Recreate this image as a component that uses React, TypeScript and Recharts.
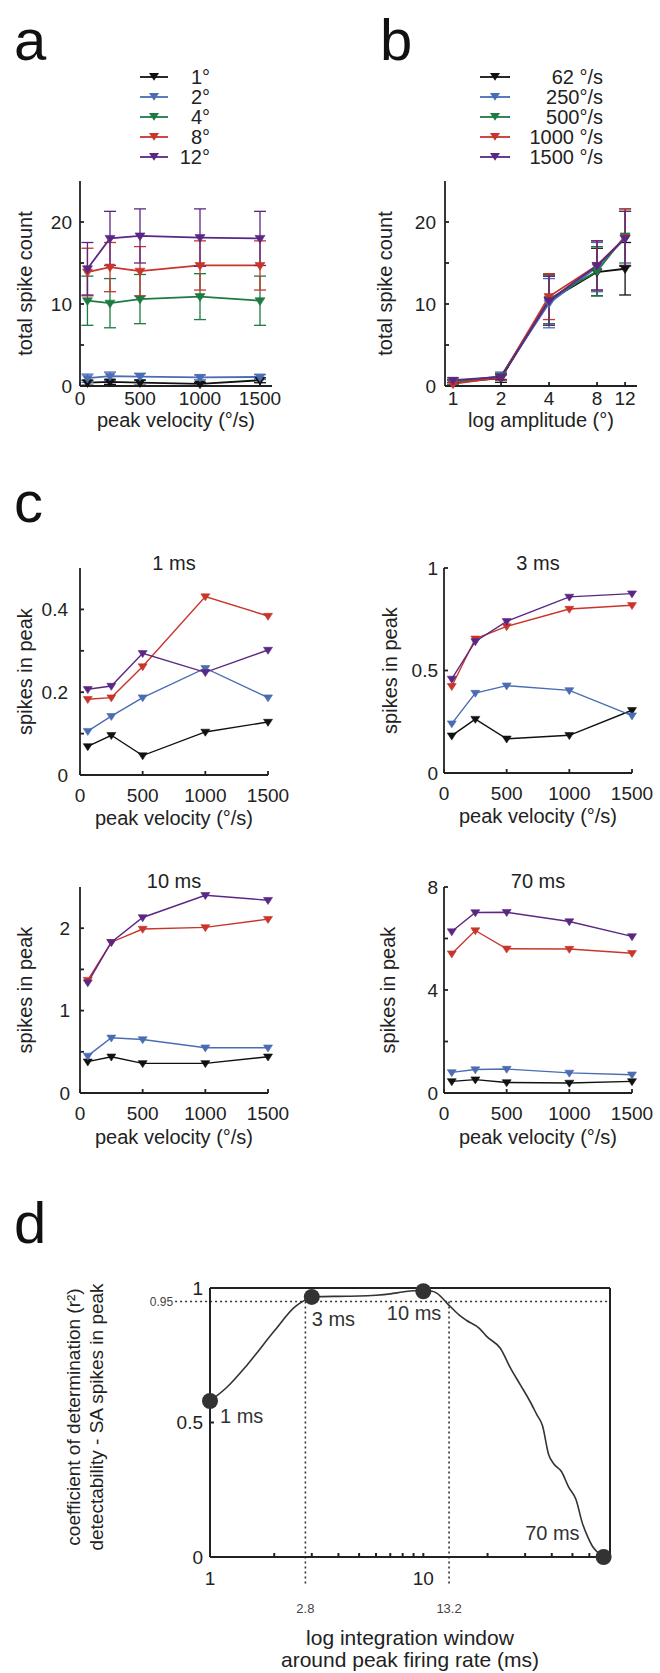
import React from 'react';
import {
  LineChart,
  Line,
  XAxis,
  YAxis,
  ErrorBar,
  Legend,
  Label,
  ComposedChart,
  ReferenceLine,
  ReferenceDot,
} from 'recharts';

const FONT = '"Liberation Sans", Arial, Helvetica, sans-serif';
const INK = '#222';
const SERIES_COLORS = ['#111111', '#4a6cb3', '#1d7a43', '#c9352b', '#5b2784'];

// ---- panels a & b: total spike count, amplitude x velocity
const VELOCITIES = [62, 250, 500, 1000, 1500];
const AMPLITUDES = [1, 2, 4, 8, 12];
const AMP_NAMES = ['1°', '2°', '4°', '8°', '12°'];
const VEL_NAMES = ['62 °/s', '250°/s', '500°/s', '1000 °/s', '1500 °/s'];

const COUNT_1DEG = [0.4, 0.5, 0.4, 0.25, 0.7];
const COUNT_2DEG = [0.95, 1.2, 1.15, 1.05, 1.1];
const COUNT_4DEG = [10.4, 10.1, 10.6, 10.9, 10.4];
const COUNT_8DEG = [13.9, 14.5, 14.0, 14.7, 14.7];
const COUNT_12DEG = [14.3, 18.0, 18.3, 18.1, 18.0];

const ERR_1DEG = [0.3, 0.3, 0.3, 0.2, 0.3];
const ERR_2DEG = [0.5, 0.5, 0.4, 0.3, 0.3];
const ERR_4DEG = [3.0, 3.0, 3.0, 2.8, 3.0];
const ERR_8DEG = [2.9, 3.0, 3.0, 3.0, 3.0];
const ERR_12DEG = [3.2, 3.3, 3.3, 3.5, 3.3];

const COUNTS = [COUNT_1DEG, COUNT_2DEG, COUNT_4DEG, COUNT_8DEG, COUNT_12DEG];
const ERRS = [ERR_1DEG, ERR_2DEG, ERR_4DEG, ERR_8DEG, ERR_12DEG];

// ---- panel c: spikes in peak for four integration windows (1°, 2°, 8°, 12°)
const C_DEG_NAMES = ['1°', '2°', '8°', '12°'];
const C_DEG_COLORS = [SERIES_COLORS[0], SERIES_COLORS[1], SERIES_COLORS[3], SERIES_COLORS[4]];

const PEAK_1MS_1DEG = [0.069, 0.096, 0.047, 0.104, 0.128];
const PEAK_1MS_2DEG = [0.106, 0.142, 0.187, 0.258, 0.187];
const PEAK_1MS_8DEG = [0.183, 0.187, 0.262, 0.431, 0.384];
const PEAK_1MS_12DEG = [0.207, 0.215, 0.294, 0.248, 0.302];

const PEAK_3MS_1DEG = [0.182, 0.263, 0.167, 0.184, 0.306];
const PEAK_3MS_2DEG = [0.241, 0.39, 0.426, 0.403, 0.28];
const PEAK_3MS_8DEG = [0.423, 0.655, 0.715, 0.8, 0.818];
const PEAK_3MS_12DEG = [0.459, 0.642, 0.74, 0.859, 0.875];

const PEAK_10MS_1DEG = [0.38, 0.44, 0.36, 0.36, 0.44];
const PEAK_10MS_2DEG = [0.45, 0.67, 0.65, 0.55, 0.55];
const PEAK_10MS_8DEG = [1.37, 1.83, 1.99, 2.01, 2.11];
const PEAK_10MS_12DEG = [1.34, 1.83, 2.13, 2.4, 2.34];

const PEAK_70MS_1DEG = [0.45, 0.52, 0.41, 0.39, 0.45];
const PEAK_70MS_2DEG = [0.8, 0.91, 0.93, 0.78, 0.71];
const PEAK_70MS_8DEG = [5.41, 6.31, 5.6, 5.59, 5.43];
const PEAK_70MS_12DEG = [6.27, 7.01, 7.02, 6.66, 6.08];

// ---- panel d: r² vs integration window
const CURVE_WINDOW = [
  1, 1.2, 1.5, 2, 2.5, 2.8, 3, 3.3, 4, 5, 6, 7, 8, 9, 10, 11, 11.6, 12.9, 14.7, 15.9,
  18.3, 19.8, 23, 25.7, 28.5, 31.6, 34, 36.2, 38.7, 41, 44.4, 48, 52, 55.7, 59, 62.4, 66, 70,
];
const CURVE_R2 = [
  0.58, 0.631, 0.716, 0.84, 0.93, 0.956, 0.967, 0.968, 0.969, 0.97, 0.973, 0.978, 0.985, 0.99,
  0.99, 0.988, 0.98, 0.944, 0.9, 0.88, 0.85, 0.82, 0.775, 0.7, 0.64, 0.579, 0.53, 0.488, 0.38,
  0.345, 0.318, 0.26, 0.213, 0.125, 0.075, 0.037, 0.015, 0,
];
const MARKER_WINDOW = [1, 3, 10, 70];
const MARKER_R2 = [0.58, 0.967, 0.988, 0];
const MARKER_NAMES = ['1 ms', '3 ms', '10 ms', '70 ms'];
const R2_THRESHOLD = 0.95;
const WINDOW_BOUNDS = [2.8, 13.2];
const LOG_TICKS = [1, 2, 3, 4, 5, 6, 7, 8, 9, 10, 20, 30, 40, 50, 60, 70];

// label offsets around each marker dot (px)
const MARKER_LABEL_POS = [
  { dx: 10, dy: 15, anchor: 'start' },
  { dx: 0, dy: 22, anchor: 'start' },
  { dx: 18, dy: 22, anchor: 'end' },
  { dx: -24, dy: -24, anchor: 'end' },
];

const rowsA = VELOCITIES.map((v, j) => {
  const row: Record<string, number> = { x: v };
  COUNTS.forEach((arr, i) => {
    row['s' + i] = arr[j];
    row['e' + i] = ERRS[i][j];
  });
  return row;
});

const rowsB = AMPLITUDES.map((a, i) => {
  const row: Record<string, number> = { x: a };
  VELOCITIES.forEach((_, j) => {
    row['s' + j] = COUNTS[i][j];
    row['e' + j] = ERRS[i][j];
  });
  return row;
});

const peakRows = (lists: number[][]) =>
  VELOCITIES.map((v, j) => {
    const row: Record<string, number> = { x: v };
    lists.forEach((arr, i) => {
      row['s' + i] = arr[j];
    });
    return row;
  });

type Series = { key: string; err?: string; name: string; color: string };

const seriesA: Series[] = AMP_NAMES.map((n, i) => ({ key: 's' + i, err: 'e' + i, name: n, color: SERIES_COLORS[i] }));
const seriesB: Series[] = VEL_NAMES.map((n, i) => ({ key: 's' + i, err: 'e' + i, name: n, color: SERIES_COLORS[i] }));
const seriesC: Series[] = C_DEG_NAMES.map((n, i) => ({ key: 's' + i, name: n, color: C_DEG_COLORS[i] }));

function triPath(cx: number, cy: number, s: number) {
  return `M${cx - s},${cy - s * 0.6}L${cx + s},${cy - s * 0.6}L${cx},${cy + s * 0.95}Z`;
}

const triangleDot = (color: string, s: number) => (props: any) => {
  const { cx, cy, index } = props;
  if (cx == null || cy == null) return <g key={index} />;
  return <path key={index} d={triPath(cx, cy, s)} fill={color} stroke={color} strokeWidth={0.6} />;
};

function SeriesLegend({ payload, order, lineW, textW, marker }: any) {
  // keep the series order (recharts sorts legend items by name)
  const items = [...(payload ?? [])].sort((a: any, b: any) => order.indexOf(a.value) - order.indexOf(b.value));
  return (
    <div style={{ display: 'flex', flexDirection: 'column' }}>
      {items.map((e: any) => (
        <div key={e.value} style={{ display: 'flex', alignItems: 'center', height: 20 }}>
          <svg width={lineW} height={20} style={{ display: 'block' }}>
            <line x1={0} x2={lineW} y1={10} y2={10} stroke={e.color} strokeWidth={1.8} />
            <path d={triPath(lineW / 2, 9, marker)} fill={e.color} />
          </svg>
          <span
            style={{
              width: textW,
              textAlign: 'right',
              fontSize: 20,
              lineHeight: '20px',
              fontFamily: FONT,
              color: INK,
              whiteSpace: 'nowrap',
            }}
          >
            {e.value}
          </span>
        </div>
      ))}
    </div>
  );
}

function SpikePanel(p: any) {
  const [x0, y0, x1, y1] = p.plot;
  const xAxisH = 56;
  const width = x1 + p.rightMargin - p.left;
  const height = y1 + xAxisH - p.top;
  const tickStyle = { fontSize: 19, fill: INK, fontFamily: FONT };
  return (
    <div style={{ position: 'absolute', left: p.left, top: p.top }}>
      <LineChart
        width={width}
        height={height}
        data={p.rows}
        margin={{ top: y0 - p.top, right: p.rightMargin, bottom: 0, left: 0 }}
      >
        <XAxis
          dataKey="x"
          type="number"
          scale={p.xScale ?? 'linear'}
          domain={p.xDomain}
          ticks={p.xTicks}
          interval={0}
          height={xAxisH}
          tickSize={-4}
          tickMargin={4 + p.xTickGap}
          tick={tickStyle}
          stroke={INK}
          strokeWidth={1.8}
        >
          <Label
            value={p.xLabel}
            position="insideBottom"
            offset={xAxisH - p.xLabelDy}
            fontSize={20}
            fill={INK}
            style={{ fontFamily: FONT, fontSize: 20, fill: INK }}
          />
        </XAxis>
        <YAxis
          type="number"
          domain={p.yDomain}
          ticks={p.yTicks}
          interval={0}
          width={x0 - p.left}
          tickSize={-4}
          tickMargin={4 + p.yTickGap}
          tick={tickStyle}
          stroke={INK}
          strokeWidth={1.8}
          tickFormatter={(v: number) => (p.yLabelled.includes(v) ? String(v) : '')}
        >
          <Label
            value={p.yLabel}
            angle={-90}
            position="insideLeft"
            offset={p.yLabelX - p.left}
            fontSize={20}
            fill={INK}
            style={{ fontFamily: FONT, fontSize: 20, fill: INK, textAnchor: 'middle' }}
          />
        </YAxis>
        {p.legend && (
          <Legend
            layout="vertical"
            align="center"
            verticalAlign="middle"
            wrapperStyle={{
              left: p.legend.left - p.left,
              top: p.legend.top - p.top,
              width: p.legend.lineW + p.legend.textW,
              height: 100,
            }}
            content={(props: any) => (
              <SeriesLegend
                payload={props.payload}
                order={p.series.map((s: Series) => s.name)}
                lineW={p.legend.lineW}
                textW={p.legend.textW}
                marker={p.marker}
              />
            )}
          />
        )}
        {p.series.map((s: Series) => (
          <Line
            key={s.key}
            dataKey={s.key}
            name={s.name}
            stroke={s.color}
            strokeWidth={p.lineWidth}
            dot={triangleDot(s.color, p.marker)}
            activeDot={false}
            isAnimationActive={false}
          >
            {s.err && (
              <ErrorBar dataKey={s.err} width={6} stroke={s.color} strokeWidth={1.3} direction="y" isAnimationActive={false} />
            )}
          </Line>
        ))}
      </LineChart>
    </div>
  );
}

const C_PANELS = [
  {
    title: '1 ms',
    left: 0,
    top: 540,
    plot: [80, 568, 268, 775],
    lists: [PEAK_1MS_1DEG, PEAK_1MS_2DEG, PEAK_1MS_8DEG, PEAK_1MS_12DEG],
    yDomain: [0, 0.5],
    yTicks: [0, 0.1, 0.2, 0.3, 0.4],
    yLabelled: [0, 0.2, 0.4],
    yLabelX: 25,
    yTickGap: 12,
    xLabelDy: 50,
    titleY: 570,
  },
  {
    title: '3 ms',
    left: 365,
    top: 540,
    plot: [444, 568, 632, 773],
    lists: [PEAK_3MS_1DEG, PEAK_3MS_2DEG, PEAK_3MS_8DEG, PEAK_3MS_12DEG],
    yDomain: [0, 1],
    yTicks: [0, 0.5, 1],
    yLabelled: [0, 0.5, 1],
    yLabelX: 390,
    yTickGap: 6,
    xLabelDy: 50,
    titleY: 570,
  },
  {
    title: '10 ms',
    left: 0,
    top: 860,
    plot: [80, 887, 268, 1093],
    lists: [PEAK_10MS_1DEG, PEAK_10MS_2DEG, PEAK_10MS_8DEG, PEAK_10MS_12DEG],
    yDomain: [0, 2.5],
    yTicks: [0, 0.5, 1, 1.5, 2],
    yLabelled: [0, 1, 2],
    yLabelX: 25,
    yTickGap: 10,
    xLabelDy: 51,
    titleY: 888,
  },
  {
    title: '70 ms',
    left: 365,
    top: 860,
    plot: [444, 887, 632, 1093],
    lists: [PEAK_70MS_1DEG, PEAK_70MS_2DEG, PEAK_70MS_8DEG, PEAK_70MS_12DEG],
    yDomain: [0, 8],
    yTicks: [0, 2, 4, 6, 8],
    yLabelled: [0, 4, 8],
    yLabelX: 388,
    yTickGap: 6,
    xLabelDy: 51,
    titleY: 888,
  },
];

function MarkerLabel(props: any) {
  const { viewBox, markText, dx, dy, anchor } = props;
  if (!viewBox) return null;
  const cx = viewBox.x + (viewBox.width ?? 0) / 2;
  const cy = viewBox.y + (viewBox.height ?? 0) / 2;
  return (
    <text
      x={cx + dx}
      y={cy + dy}
      textAnchor={anchor}
      dominantBaseline="central"
      fontSize={20}
      fontFamily={FONT}
      fill="#333"
    >
      {markText}
    </text>
  );
}

function PanelD() {
  const top = 1260;
  const xAxisH = 114;
  const height = 1557 + xAxisH - top;
  const curve = CURVE_WINDOW.map((w, i) => ({ w, r2: CURVE_R2[i] }));
  const tickStyle = { fontSize: 19, fill: INK, fontFamily: FONT };
  const logFmt = (v: number) => (v === 1 || v === 10 ? String(v) : '');
  return (
    <div style={{ position: 'absolute', left: 0, top }}>
      <ComposedChart width={660} height={height} margin={{ top: 23, right: 45, bottom: 0, left: 0 }}>
        <XAxis
          xAxisId="b"
          dataKey="w"
          type="number"
          scale="log"
          domain={[1, 75]}
          ticks={LOG_TICKS}
          interval={0}
          height={xAxisH}
          tickSize={-4}
          tickMargin={4 + 15}
          tick={tickStyle}
          tickFormatter={logFmt}
          stroke={INK}
          strokeWidth={2}
        >
          <Label
            content={() => (
              <text textAnchor="middle" fontSize={21} fontFamily={FONT} fill={INK}>
                <tspan x={410} y={385}>
                  log integration window
                </tspan>
                <tspan x={410} y={407}>
                  around peak firing rate (ms)
                </tspan>
              </text>
            )}
          />
        </XAxis>
        <XAxis
          xAxisId="t"
          orientation="top"
          type="number"
          scale="log"
          domain={[1, 75]}
          ticks={LOG_TICKS}
          interval={0}
          height={5}
          tickSize={-4}
          tickFormatter={() => ''}
          stroke={INK}
          strokeWidth={2}
        />
        <YAxis
          yAxisId="l"
          type="number"
          domain={[0, 1]}
          ticks={[0, 0.5, 1]}
          interval={0}
          width={210}
          tickSize={-4}
          tickMargin={4 + 7}
          tick={tickStyle}
          stroke={INK}
          strokeWidth={2}
        >
          <Label
            content={() => (
              <text
                transform="rotate(-90 86 157)"
                textAnchor="middle"
                fontSize={19}
                fontFamily={FONT}
                fill={INK}
              >
                <tspan x={86} y={151}>
                  coefficient of determination (r²)
                </tspan>
                <tspan x={86} y={174}>
                  detectability - SA spikes in peak
                </tspan>
              </text>
            )}
          />
        </YAxis>
        <YAxis
          yAxisId="r"
          orientation="right"
          type="number"
          domain={[0, 1]}
          ticks={[0, 0.5, 1]}
          interval={0}
          width={5}
          tickSize={-4}
          tickFormatter={() => ''}
          stroke={INK}
          strokeWidth={2}
        />
        <ReferenceLine
          xAxisId="b"
          yAxisId="l"
          segment={[
            { x: 0.686, y: R2_THRESHOLD },
            { x: 75, y: R2_THRESHOLD },
          ]}
          stroke="#333"
          strokeWidth={1.6}
          strokeDasharray="2 3"
          ifOverflow="visible"
          label={{ value: String(R2_THRESHOLD), position: 'left', offset: 2, fontSize: 12, fill: '#444', fontFamily: FONT }}
        />
        {WINDOW_BOUNDS.map((b) => (
          <ReferenceLine
            key={b}
            xAxisId="b"
            yAxisId="l"
            segment={[
              { x: b, y: R2_THRESHOLD },
              { x: b, y: -0.1 },
            ]}
            stroke="#333"
            strokeWidth={1.6}
            strokeDasharray="2 3"
            ifOverflow="visible"
            label={{ value: String(b), position: 'bottom', offset: 20, fontSize: 13, fill: '#444', fontFamily: FONT }}
          />
        ))}
        <Line
          xAxisId="b"
          yAxisId="l"
          data={curve}
          dataKey="r2"
          type="monotone"
          stroke="#333"
          strokeWidth={1.6}
          dot={false}
          activeDot={false}
          isAnimationActive={false}
        />
        {MARKER_WINDOW.map((w, i) => (
          <ReferenceDot
            key={w}
            xAxisId="b"
            yAxisId="l"
            x={w}
            y={MARKER_R2[i]}
            r={8}
            fill="#333"
            stroke="none"
            ifOverflow="visible"
            label={
              <MarkerLabel
                markText={MARKER_NAMES[i]}
                dx={MARKER_LABEL_POS[i].dx}
                dy={MARKER_LABEL_POS[i].dy}
                anchor={MARKER_LABEL_POS[i].anchor}
              />
            }
          />
        ))}
      </ComposedChart>
    </div>
  );
}

export default function App() {
  return (
    <div
      style={{
        position: 'absolute',
        left: 0,
        top: 0,
        width: 660,
        height: 1673,
        overflow: 'hidden',
        background: '#fff',
        fontFamily: FONT,
      }}
    >
      <SpikePanel
        left={0}
        top={60}
        plot={[80, 181, 272, 386]}
        rightMargin={20}
        rows={rowsA}
        series={seriesA}
        xDomain={[0, 1600]}
        xTicks={[0, 500, 1000, 1500]}
        yDomain={[0, 25]}
        yTicks={[0, 5, 10, 15, 20]}
        yLabelled={[0, 10, 20]}
        yLabel="total spike count"
        yLabelX={25}
        xLabel="peak velocity (°/s)"
        xLabelDy={41}
        xTickGap={6}
        yTickGap={8}
        marker={5}
        lineWidth={1.8}
        legend={{ left: 140, top: 67, lineW: 28, textW: 42 }}
      />
      <SpikePanel
        left={365}
        top={60}
        plot={[445, 181, 637, 386]}
        rightMargin={15}
        rows={rowsB}
        series={seriesB}
        xScale="log"
        xDomain={[0.891, 14.25]}
        xTicks={AMPLITUDES}
        yDomain={[0, 25]}
        yTicks={[0, 5, 10, 15, 20]}
        yLabelled={[0, 10, 20]}
        yLabel="total spike count"
        yLabelX={385}
        xLabel="log amplitude (°)"
        xLabelDy={41}
        xTickGap={6}
        yTickGap={9}
        marker={5}
        lineWidth={1.8}
        legend={{ left: 480, top: 67, lineW: 30, textW: 93 }}
      />
      {C_PANELS.map((c) => (
        <SpikePanel
          key={c.title}
          left={c.left}
          top={c.top}
          plot={c.plot}
          rightMargin={c.left === 0 ? 25 : 28}
          rows={peakRows(c.lists)}
          series={seriesC}
          xDomain={[0, 1500]}
          xTicks={[0, 500, 1000, 1500]}
          yDomain={c.yDomain}
          yTicks={c.yTicks}
          yLabelled={c.yLabelled}
          yLabel="spikes in peak"
          yLabelX={c.yLabelX}
          xLabel="peak velocity (°/s)"
          xLabelDy={c.xLabelDy}
          xTickGap={14}
          yTickGap={c.yTickGap}
          marker={4.5}
          lineWidth={1.4}
        />
      ))}
      <PanelD />
      <svg width={660} height={1673} style={{ position: 'absolute', left: 0, top: 0, pointerEvents: 'none' }}>
        <g fontFamily={FONT} fill="#111" fontSize={58}>
          <text x={14} y={60}>a</text>
          <text x={380} y={60}>b</text>
          <text x={14} y={522}>c</text>
          <text x={14} y={1243}>d</text>
        </g>
        <g fontFamily={FONT} fill={INK} fontSize={20} textAnchor="middle">
          {C_PANELS.map((c) => (
            <text key={c.title} x={(c.plot[0] + c.plot[2]) / 2} y={c.titleY}>
              {c.title}
            </text>
          ))}
        </g>
      </svg>
    </div>
  );
}
